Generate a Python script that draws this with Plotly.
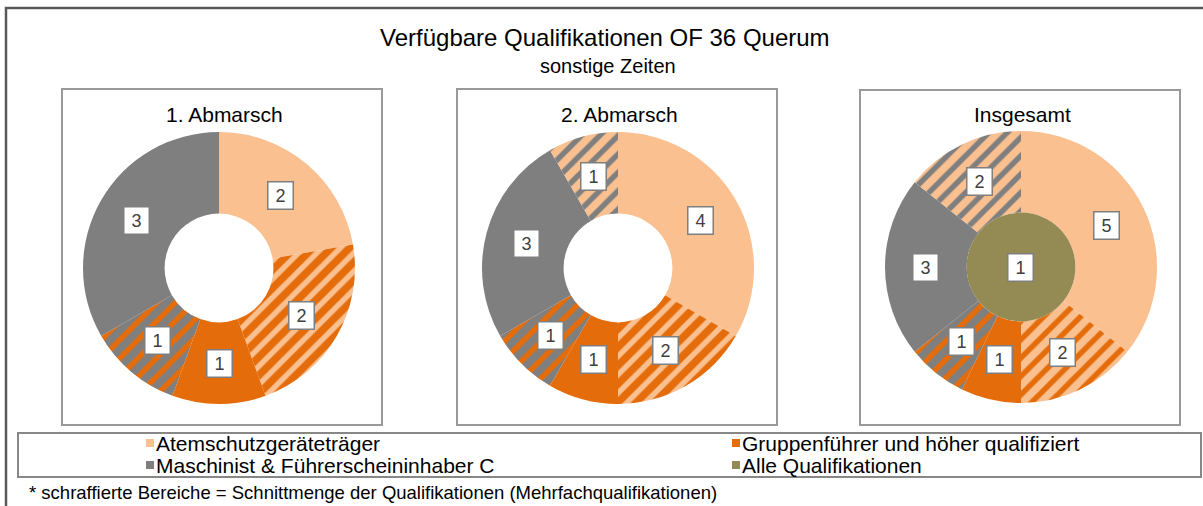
import math
import plotly.graph_objects as go

# --- data ---------------------------------------------------------------
panel_titles = ["1. Abmarsch", "2. Abmarsch", "Insgesamt"]

labels_1 = ["Atemschutzgeräteträger", "Atemschutz + Gruppenführer", "Gruppenführer",
            "Gruppenführer + Maschinist", "Maschinist"]
values_1 = [2, 2, 1, 1, 3]

labels_2 = ["Atemschutzgeräteträger", "Atemschutz + Gruppenführer", "Gruppenführer",
            "Gruppenführer + Maschinist", "Maschinist", "Maschinist + Atemschutz"]
values_2 = [4, 2, 1, 1, 3, 1]

labels_3 = labels_2
values_3 = [5, 2, 1, 1, 3, 2]

inner_label_3 = ["Alle Qualifikationen"]
inner_value_3 = [1]

legend_names = ["Atemschutzgeräteträger", "Gruppenführer und höher qualifiziert",
                "Maschinist & Führerscheininhaber C", "Alle Qualifikationen"]

title = "Verfügbare Qualifikationen OF 36 Querum"
subtitle = "sonstige Zeiten"
footnote = "* schraffierte Bereiche = Schnittmenge der Qualifikationen (Mehrfachqualifikationen)"

# --- styles -------------------------------------------------------------
LIGHT = "#FAC090"
ORANGE = "#E46C0A"
GREY = "#7F7F7F"
OLIVE = "#948A54"
legend_colors = [LIGHT, ORANGE, GREY, OLIVE]

styles = [
    dict(bg=[LIGHT, ORANGE, ORANGE, GREY, GREY],
         fg=[LIGHT, LIGHT, ORANGE, ORANGE, GREY],
         shape=["", "/", "", "/", ""]),
    dict(bg=[LIGHT, ORANGE, ORANGE, GREY, GREY, LIGHT],
         fg=[LIGHT, LIGHT, ORANGE, ORANGE, GREY, GREY],
         shape=["", "/", "", "/", "", "/"]),
    dict(bg=[LIGHT, LIGHT, ORANGE, GREY, GREY, LIGHT],
         fg=[LIGHT, ORANGE, ORANGE, ORANGE, GREY, GREY],
         shape=["", "/", "", "/", "", "/"]),
]

W, H = 1203, 506
FONT = "Liberation Sans, Arial, sans-serif"
centers = [(219, 268), (618, 268), (1021, 267)]
R = 136
HOLE = 0.4
panels = [(62, 89, 382, 425), (457, 89, 777, 425), (860, 90, 1180, 425)]


def px(x):
    return x / W


def py(y):
    return 1 - y / H


fig = go.Figure()
annotations = []
shapes = []


def text_at(x, y, text, size, xanchor="center", **kw):
    annotations.append(dict(x=px(x), y=py(y), xref="paper", yref="paper", text=text,
                            showarrow=False, xanchor=xanchor, yanchor="middle",
                            font=dict(size=size, color=kw.pop("color", "black"), family=FONT),
                            **kw))


def box_label(x, y, v):
    text_at(x, y, str(v), 18, color="#404040", bgcolor="white", bordercolor=GREY,
            borderwidth=1.5, width=20, height=22, borderpad=2)


def add_donut(values, labels, style, center, hole):
    cx, cy = center
    fig.add_trace(go.Pie(
        values=values, labels=labels, sort=False, direction="clockwise", rotation=0,
        hole=hole, textinfo="none", hoverinfo="label+value", showlegend=False,
        marker=dict(colors=style["bg"], line=dict(width=0),
                    pattern=dict(shape=style["shape"], fgcolor=style["fg"], bgcolor=style["bg"],
                                 size=13, solidity=0.42)),
        domain=dict(x=[px(cx - R), px(cx + R)], y=[py(cy + R), py(cy - R)]),
    ))
    # boxed value labels at slice midpoints
    total = sum(values)
    acc = 0
    rmid = R * (1 + hole) / 2
    for v in values:
        ang = 2 * math.pi * (acc + v / 2) / total
        acc += v
        box_label(cx + rmid * math.sin(ang), cy - rmid * math.cos(ang), v)


add_donut(values_1, labels_1, styles[0], centers[0], HOLE)
add_donut(values_2, labels_2, styles[1], centers[1], HOLE)
add_donut(values_3, labels_3, styles[2], centers[2], HOLE)

# inner circle of "Insgesamt"
cx, cy = centers[2]
ri = R * HOLE
fig.add_trace(go.Pie(
    values=inner_value_3, labels=inner_label_3, sort=False, textinfo="none",
    hoverinfo="label+value", showlegend=False,
    marker=dict(colors=[OLIVE], line=dict(width=0)),
    domain=dict(x=[px(cx - ri), px(cx + ri)], y=[py(cy + ri), py(cy - ri)]),
))
box_label(cx, cy, inner_value_3[0])

# frames
shapes.append(dict(type="rect", xref="paper", yref="paper",
                   x0=px(6), y0=py(530), x1=px(1220), y1=py(8),
                   line=dict(color="#595959", width=2.5)))
for (x0, y0, x1, y1), t in zip(panels, panel_titles):
    shapes.append(dict(type="rect", xref="paper", yref="paper",
                       x0=px(x0), y0=py(y1), x1=px(x1), y1=py(y0),
                       line=dict(color="#999999", width=2)))
    text_at((x0 + x1) / 2 + 2, 114, t, 21)

# legend box
shapes.append(dict(type="rect", xref="paper", yref="paper",
                   x0=px(18), y0=py(477), x1=px(1201), y1=py(433),
                   line=dict(color="#878787", width=2)))
leg_x = [146, 732, 146, 732]
leg_y = [443, 443, 465, 465]
for name, col, lx, ly in zip(legend_names, legend_colors, leg_x, leg_y):
    shapes.append(dict(type="rect", xref="paper", yref="paper",
                       x0=px(lx), y0=py(ly + 4), x1=px(lx + 8), y1=py(ly - 4),
                       fillcolor=col, line=dict(width=0)))
    text_at(lx + 8, ly, name, 21, xanchor="left")

text_at(605, 37, title, 24)
text_at(608, 66, subtitle, 20)
text_at(27, 492, footnote, 18.5, xanchor="left")

fig.update_layout(
    width=W, height=H,
    margin=dict(l=0, r=0, t=0, b=0),
    paper_bgcolor="white", plot_bgcolor="white",
    font=dict(family=FONT, color="black"),
    shapes=shapes, annotations=annotations,
)

fig.write_html("out.html", config=dict(displayModeBar=False),
               post_script="document.body.style.margin='0px';")
